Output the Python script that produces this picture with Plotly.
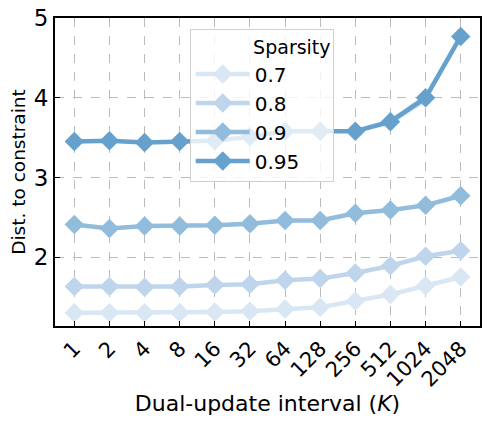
import plotly.graph_objects as go

intervals = ["1", "2", "4", "8", "16", "32", "64", "128", "256", "512", "1024", "2048"]
sparsity_labels = ["0.7", "0.8", "0.9", "0.95"]
dist_07 = [1.30, 1.30, 1.30, 1.30, 1.31, 1.32, 1.35, 1.37, 1.45, 1.53, 1.64, 1.75]
dist_08 = [1.63, 1.63, 1.62, 1.63, 1.65, 1.66, 1.71, 1.73, 1.80, 1.89, 2.01, 2.08]
dist_09 = [2.41, 2.36, 2.39, 2.39, 2.40, 2.42, 2.46, 2.46, 2.55, 2.59, 2.65, 2.77]
dist_095 = [3.45, 3.46, 3.44, 3.45, 3.46, 3.51, 3.58, 3.58, 3.58, 3.70, 4.00, 4.77]
band_095_lo = [3.44, 3.45, 3.43, 3.44, 3.45, 3.50, 3.57, 3.57, 3.56, 3.66, 3.94, 4.74]
band_095_hi = [3.46, 3.47, 3.45, 3.46, 3.47, 3.52, 3.59, 3.59, 3.60, 3.74, 4.05, 4.80]

colors = ["#d9e7f5", "#bed5ec", "#91bcdc", "#66a0cd"]
series = [dist_07, dist_08, dist_09, dist_095]

fig = go.Figure()
idx = list(range(len(intervals)))

fig.add_trace(go.Scatter(x=idx + idx[::-1], y=band_095_hi + band_095_lo[::-1],
                         fill="toself", fillcolor="rgba(102,160,205,0.3)",
                         line=dict(width=0), showlegend=False, hoverinfo="skip"))

for lab, ys, c in zip(sparsity_labels, series, colors):
    fig.add_trace(go.Scatter(x=idx, y=ys, mode="lines+markers", name=lab,
                             line=dict(color=c, width=4.5),
                             marker=dict(symbol="diamond", size=15, color=c)))

font = "DejaVu Sans"
# page body has an 8px margin, so the figure is 8px smaller than the window
fig.update_layout(
    width=496, height=424,
    margin=dict(l=47, r=24, t=10, b=106, autoexpand=False),
    paper_bgcolor="white", plot_bgcolor="white",
    font=dict(family=font, color="black"),
    showlegend=True,
    legend=dict(
        x=0.317, y=0.965, xanchor="left", yanchor="top",
        bgcolor="rgba(255,255,255,0.8)", bordercolor="#d0d0d0", borderwidth=1,
        font=dict(size=20, family=font),
        title=dict(text="&nbsp;" * 10 + "Sparsity", font=dict(size=19, family=font), side="top"),
        itemwidth=54, tracegroupgap=0,
    ),
)
fig.update_xaxes(
    tickmode="array", tickvals=idx, ticktext=intervals, tickangle=-45,
    range=[-0.55, 11.55], automargin=False, ticklabeloverflow="allow",
    showgrid=True, gridcolor="#bcbcbc", griddash="dash", gridwidth=0.8,
    showline=True, linecolor="black", linewidth=2, mirror=True,
    ticks="inside", ticklen=5, tickcolor="black",
    tickfont=dict(size=21, family=font),
    title=dict(text="Dual-update interval (<i>K</i>)", font=dict(size=22, family=font), standoff=4),
    zeroline=False,
)
fig.update_yaxes(
    range=[1.135, 5.002], tickvals=[2, 3, 4, 5], automargin=False, ticklabeloverflow="allow",
    showgrid=True, gridcolor="#bcbcbc", griddash="dash", gridwidth=0.8,
    showline=True, linecolor="black", linewidth=2, mirror=True,
    ticks="inside", ticklen=5, tickcolor="black",
    tickfont=dict(size=23, family=font),
    title=dict(text="Dist. to constraint", font=dict(size=18.5, family=font), standoff=10),
    zeroline=False,
)
fig.write_html("out.html")
